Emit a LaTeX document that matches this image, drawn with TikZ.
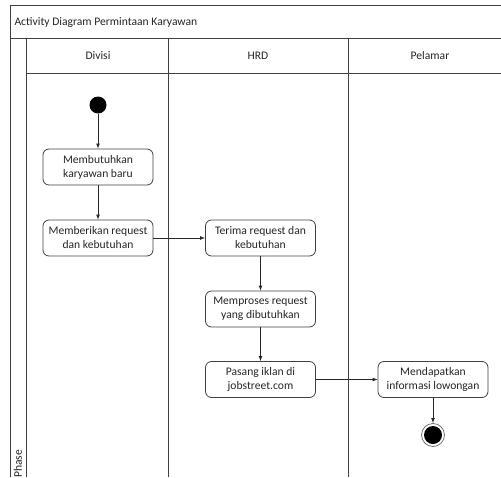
\documentclass[tikz,border=0pt]{standalone}
\usepackage{fontspec}
\setmainfont{Carlito}
\usepackage{xcolor}
\usepackage{tikz}
\usetikzlibrary{shapes.geometric, arrows}

\tikzset{
    lane/.style={draw=black!75, line width=0.8pt},
    act/.style={draw=black!75, line width=0.8pt, rounded corners=6pt, minimum width=110pt, minimum height=36pt, align=center, inner sep=2pt, text=black!85, font=\fontsize{11.6}{14}\selectfont},
    flow/.style={->, >=latex, draw=black!85, line width=0.7pt},
    label/.style={text=black!85, font=\fontsize{11.6}{14}\selectfont}
}

\begin{document}
\begin{tikzpicture}[x=1pt, y=-1pt]
    \useasboundingbox (0,0) rectangle (501,477);

    % swimlane frame
    \draw[lane] (501,5) -- (10,5) -- (10,477);
    \draw[lane] (10,38) -- (501,38);
    \draw[lane] (26,73) -- (501,73);
    \draw[lane] (26,38) -- (26,477);
    \draw[lane] (168,38) -- (168,477);
    \draw[lane] (348,38) -- (348,477);

    \node[label, anchor=west] (title) at (11,22) {Activity Diagram Permintaan Karyawan};
    \node[label] (divisi) at (98,56) {Divisi};
    \node[label] (hrd) at (258,56) {HRD};
    \node[label] (pelamar) at (430,56) {Pelamar};
    \node[label, rotate=90, anchor=west, inner sep=0pt] (phase) at (18,478) {Phase};

    % actions
    \node[circle, fill=black, inner sep=0pt, minimum size=17pt] (start) at (98,105) {};
    \node[act] (butuh) at (98,167) {Membutuhkan\\karyawan baru};
    \node[act] (beri) at (98,238) {Memberikan request\\dan kebutuhan};
    \node[act] (terima) at (260.5,238) {Terima request dan\\kebutuhan};
    \node[act] (proses) at (260.5,309) {Memproses request\\yang dibutuhkan};
    \node[act] (pasang) at (260.5,379.5) {Pasang iklan di\\jobstreet.com};
    \node[act] (dapat) at (433,379.5) {Mendapatkan\\informasi lowongan};
    \node[circle, draw=black!55, line width=0.8pt, inner sep=0pt, minimum size=23pt] (finish) at (433,435) {};
    \fill[black] (finish.center) circle (9);

    \draw[flow] (start) -- (butuh);
    \draw[flow] (butuh) -- (beri);
    \draw[flow] (beri) -- (terima);
    \draw[flow] (terima) -- (proses);
    \draw[flow] (proses) -- (pasang);
    \draw[flow] (pasang) -- (dapat);
    \draw[flow] (dapat) -- (finish);
\end{tikzpicture}
\end{document}
